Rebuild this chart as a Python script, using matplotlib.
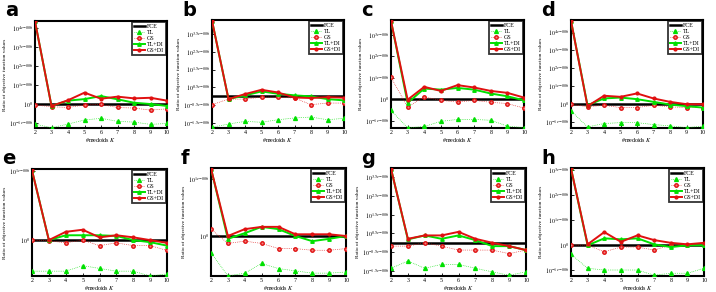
import matplotlib
matplotlib.use("Agg")
import matplotlib.pyplot as plt

# =========================
# DATA
# =========================

K = [2, 3, 4, 5, 6, 7, 8, 9, 10]
panel_names = ["a", "b", "c", "d", "e", "f", "g", "h"]

# exponent offsets (units of 1e-006) relative to FCE, one row per panel
tl = [
    [-1.05, -1.25, -1.05, -0.84, -0.75, -0.91, -0.95, -1.07, -1.02],
    [-1.72, -1.54, -1.39, -1.44, -1.30, -1.20, -1.15, -1.30, -1.22],
    [-0.52, -1.33, -1.27, -1.03, -0.94, -0.94, -0.98, -1.25, -1.33],
    [-0.37, -1.27, -1.08, -1.03, -1.03, -1.14, -1.21, -1.31, -1.23],
    [-0.45, -0.45, -0.45, -0.37, -0.41, -0.45, -0.45, -0.52, -0.49],
    [-0.29, -0.70, -0.65, -0.48, -0.57, -0.61, -0.65, -0.65, -0.63],
    [-1.36, -0.97, -1.36, -1.15, -1.15, -1.36, -1.55, -1.73, -1.55],
    [-0.37, -0.93, -1.00, -1.00, -1.00, -1.21, -1.13, -1.13, -0.93],
]
gs = [
    [-0.05, -0.14, -0.18, -0.05, -0.02, -0.18, -0.21, -0.32, -0.25],
    [-0.46, -0.15, -0.15, -0.04, -0.04, -0.09, -0.46, -0.37, -0.37],
    [1.02, -0.36, 0.11, -0.05, -0.13, -0.05, -0.14, -0.20, -0.41],
    [0.00, -0.15, -0.06, -0.19, -0.19, -0.06, -0.15, -0.19, -0.19],
    [0.00, -0.01, -0.04, 0.00, -0.08, -0.04, -0.08, -0.08, -0.15],
    [0.12, -0.13, -0.09, -0.13, -0.22, -0.22, -0.25, -0.25, -0.22],
    [-0.18, -0.18, 0.00, -0.18, -0.39, -0.39, -0.39, -0.58, -0.39],
    [0.00, 0.00, -0.27, -0.08, -0.08, -0.20, 0.00, 0.00, 0.00],
]
tl_di = [
    [4.35, -0.10, 0.18, 0.26, 0.42, 0.25, 0.07, 0.00, -0.10],
    [4.22, -0.15, 0.06, 0.28, 0.15, 0.06, 0.00, -0.15, -0.22],
    [3.65, -0.17, 0.50, 0.45, 0.53, 0.45, 0.27, 0.14, -0.05],
    [4.65, -0.06, 0.32, 0.37, 0.28, 0.13, -0.02, -0.11, -0.19],
    [1.01, 0.00, 0.07, 0.07, 0.07, 0.06, 0.00, -0.03, -0.08],
    [1.18, -0.05, 0.05, 0.16, 0.12, 0.00, -0.09, -0.05, 0.00],
    [3.94, 0.18, 0.39, 0.21, 0.39, 0.14, -0.18, -0.18, -0.39],
    [3.07, -0.01, 0.27, 0.23, 0.27, 0.03, -0.08, -0.01, -0.01],
]
gs_di = [
    [4.35, -0.10, 0.20, 0.60, 0.28, 0.39, 0.30, 0.33, 0.18],
    [4.22, -0.15, 0.13, 0.37, 0.22, -0.06, -0.09, -0.04, -0.07],
    [3.65, -0.02, 0.58, 0.39, 0.66, 0.55, 0.39, 0.30, 0.08],
    [4.65, -0.11, 0.47, 0.41, 0.60, 0.32, 0.13, 0.00, 0.00],
    [1.01, 0.00, 0.12, 0.15, 0.04, 0.07, 0.04, 0.00, -0.04],
    [1.18, 0.00, 0.12, 0.16, 0.16, 0.03, 0.03, 0.03, 0.00],
    [3.94, 0.21, 0.39, 0.39, 0.58, 0.21, 0.00, -0.18, -0.39],
    [3.07, 0.03, 0.52, 0.13, 0.39, 0.20, 0.09, 0.03, 0.09],
]

y_limits = [
    (-1.26, 4.37), (-1.76, 4.26), (-1.34, 3.70), (-1.33, 4.70),
    (-0.52, 1.03), (-0.70, 1.19), (-1.77, 3.98), (-1.24, 3.09),
]
y_ticks = [
    [-1, 0, 1, 2, 3, 4],
    [-1.5, -0.5, 0.5, 1.5, 2.5, 3.5],
    [-1, 0, 1, 2, 3],
    [-1, 0, 1, 2, 3, 4],
    [0, 1],
    [0, 1],
    [-1.5, -0.5, 0.5, 1.5, 2.5, 3.5],
    [-1, 0, 1, 2, 3],
]

# axes boxes in pixels: left, right, top, bottom
boxes = [
    (35, 167, 21, 128), (212, 344, 20, 128), (391, 524, 20, 128), (571, 703, 20, 128),
    (32, 167, 169, 276), (211, 346, 168, 276), (391, 526, 168, 276), (571, 704, 168, 276),
]

GREEN = "#00e000"
RED = "#e01010"

plt.rcParams["font.family"] = "Liberation Serif"
plt.rcParams["mathtext.fontset"] = "stix"

W, H = 716, 292
fig = plt.figure(figsize=(W / 100, H / 100), dpi=100)


def tick_label(v):
    if v == 0:
        return "$10^0$"
    return "$10^{%ge\\!-\\!006}$" % v


for i, name in enumerate(panel_names):
    l, r, t, b = boxes[i]
    ax = fig.add_axes([l / W, 1 - b / H, (r - l) / W, (b - t) / H])

    ax.plot(K, [0] * len(K), color="black", lw=1.8, label="FCE", zorder=2)
    ax.plot(K, tl[i], color=GREEN, lw=0.5, ls=":", marker="^", ms=2.8,
            mec=GREEN, mfc=GREEN, label="TL", zorder=3)
    ax.plot(K, gs[i], color=RED, lw=0.5, ls=":", marker="o", ms=2.5,
            mec=RED, mfc="#f08080", label="GS", zorder=3)
    ax.plot(K, tl_di[i], color=GREEN, lw=1.4, marker="^", ms=2.5,
            label="TL+DI", zorder=4)
    ax.plot(K, gs_di[i], color=RED, lw=1.4, marker="o", ms=2.0,
            label="GS+DI", zorder=5)

    ax.set_xlim(2, 10)
    ax.set_ylim(*y_limits[i])
    ax.set_xticks(K)
    ax.set_yticks(y_ticks[i])
    ax.set_yticklabels([tick_label(v) for v in y_ticks[i]])
    ax.tick_params(labelsize=4.3, length=2, width=0.6, pad=1.5, direction="in")
    ax.set_xlabel("#medoids $K$", fontsize=4.3, labelpad=1)
    ax.set_ylabel("Ratio of objective function values", fontsize=3.8, labelpad=1)
    for s in ax.spines.values():
        s.set_linewidth(1.5)

    leg = ax.legend(loc="upper right", fontsize=4.3, frameon=True, fancybox=False,
                    borderpad=0.3, labelspacing=0.12, handlelength=1.9,
                    handletextpad=0.3, borderaxespad=0.2)
    leg.get_frame().set_edgecolor("black")
    leg.get_frame().set_linewidth(1.3)

    fig.text((l - 30) / W, 1 - (t - 10) / H, name, fontsize=14, fontweight="bold",
             family="DejaVu Sans", ha="left", va="center")

fig.savefig("out.png", dpi=100)
